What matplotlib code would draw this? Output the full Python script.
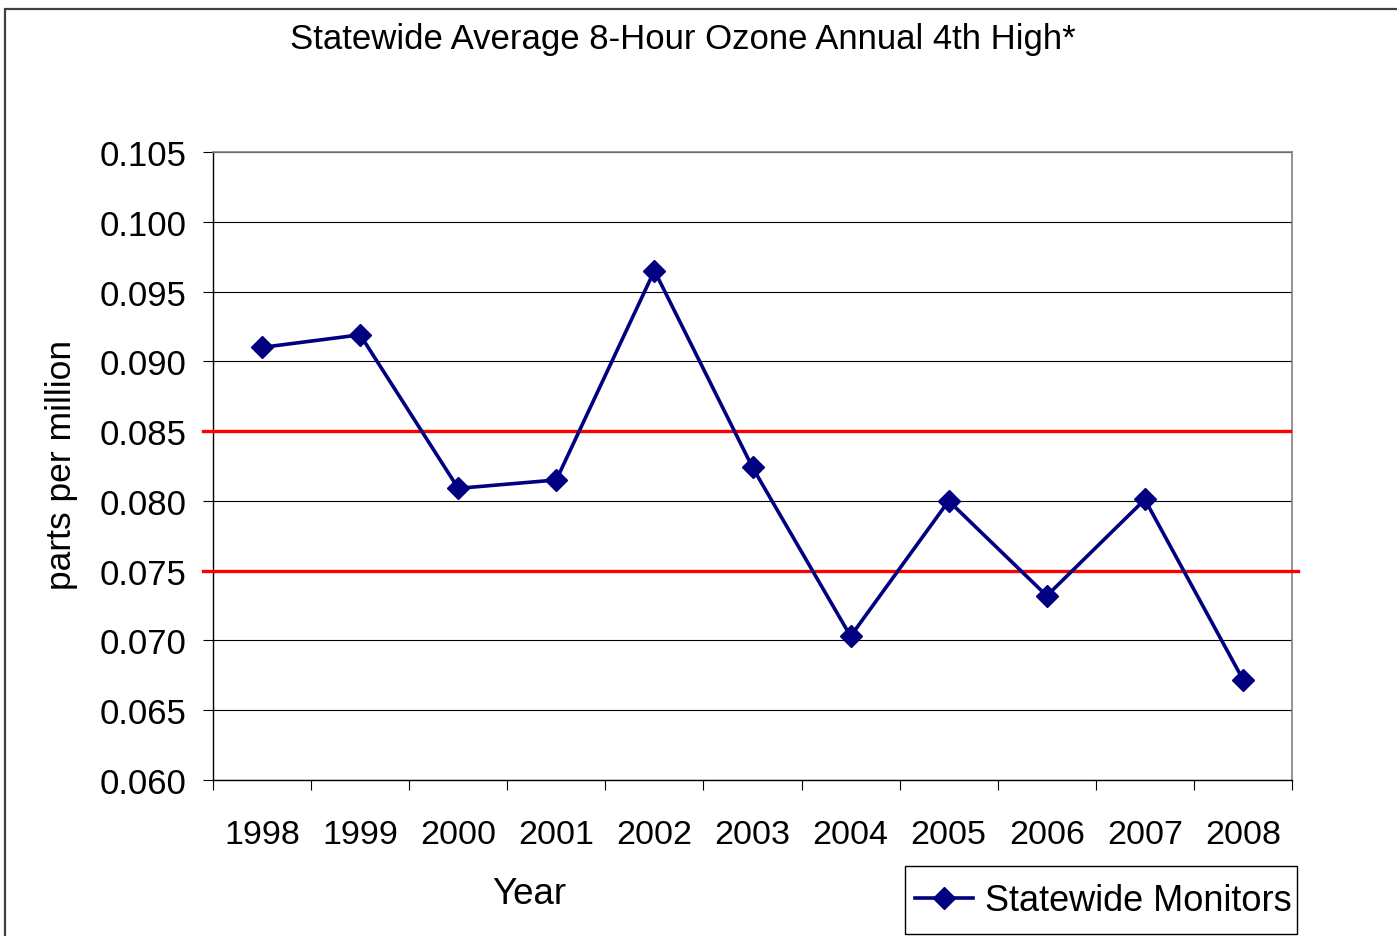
import matplotlib.pyplot as plt
import matplotlib.patches as patches
import numpy as np

# data
years = ['1998', '1999', '2000', '2001', '2002', '2003', '2004', '2005', '2006', '2007', '2008']
ozone = [0.0910, 0.0919, 0.0809, 0.0815, 0.0965, 0.0824, 0.0703, 0.0800, 0.0732, 0.0801, 0.0672]
standards = [0.085, 0.075]
y_ticks = [0.060, 0.065, 0.070, 0.075, 0.080, 0.085, 0.090, 0.095, 0.100, 0.105]

plt.rcParams['font.family'] = ['Liberation Sans', 'DejaVu Sans']

W, H = 1397, 937
fig = plt.figure(figsize=(W / 100, H / 100), dpi=100)
ax = fig.add_axes([213 / W, 1 - 781 / H, (1292 - 213) / W, (781 - 153) / H])

x = np.arange(len(years))

ax.set_ylim(0.060, 0.105)
ax.set_xlim(-0.5, len(years) - 0.5)
ax.set_yticks(y_ticks)
ax.set_yticklabels([f'{v:.3f}' for v in y_ticks])
ax.yaxis.grid(True, color='black', lw=0.8)
ax.set_axisbelow(True)

# category boundaries as major ticks, labels on minor ticks
ax.set_xticks(np.arange(len(years) + 1) - 0.5)
ax.set_xticklabels([])
ax.set_xticks(x, minor=True)
ax.set_xticklabels(years, minor=True)
ax.tick_params(axis='x', which='major', direction='out', length=7, width=0.8, color='black')
ax.tick_params(axis='x', which='minor', length=0, pad=28, labelsize=24.5)
ax.tick_params(axis='y', direction='out', length=7, width=0.8, pad=12, labelsize=25)

for s in ['top', 'right']:
    ax.spines[s].set_color('#808080')
    ax.spines[s].set_linewidth(1.2)
for s in ['left', 'bottom']:
    ax.spines[s].set_color('black')
    ax.spines[s].set_linewidth(1)

# standard lines, slightly past the plot area like the original
ends = [1290, 1298]
for lvl, end in zip(standards, ends):
    ax.plot([-10 / 1079, (end - 213) / 1079], [lvl, lvl], color='#ff0000', lw=2.4,
            transform=ax.get_yaxis_transform(), clip_on=False, zorder=3)

ax.plot(x, ozone, color='#000080', lw=2.6, marker='D', markersize=11.5,
        markerfacecolor='#000080', markeredgecolor='#000080', zorder=4,
        label='Statewide Monitors')

fig.text(683 / W, 1 - 40 / H, 'Statewide Average 8-Hour Ozone Annual 4th High*',
         ha='center', va='center', fontsize=25)
fig.text(62 / W, 1 - 465 / H, 'parts per million', rotation=90,
         ha='center', va='center', fontsize=25.5)
fig.text(529 / W, 1 - 895 / H, 'Year', ha='center', va='center', fontsize=26.5)

# legend without its own frame, box drawn separately
leg = fig.legend(loc='center left', bbox_to_anchor=(915 / W, 1 - 902 / H),
                 fontsize=26, frameon=False, handlelength=1.6,
                 borderpad=0, handletextpad=0.33, borderaxespad=0)
fig.patches.append(patches.Rectangle((905 / W, 1 - 935 / H), 392 / W, 68 / H,
                                     transform=fig.transFigure, fill=False,
                                     edgecolor='black', lw=1))

# outer chart border (only left and top visible)
fig.patches.append(patches.Rectangle((5 / W, -0.1), 1.2, 1.1 - 10 / H,
                                     transform=fig.transFigure, fill=False,
                                     edgecolor='#404040', lw=1.6))

fig.savefig('out.png', dpi=100)
